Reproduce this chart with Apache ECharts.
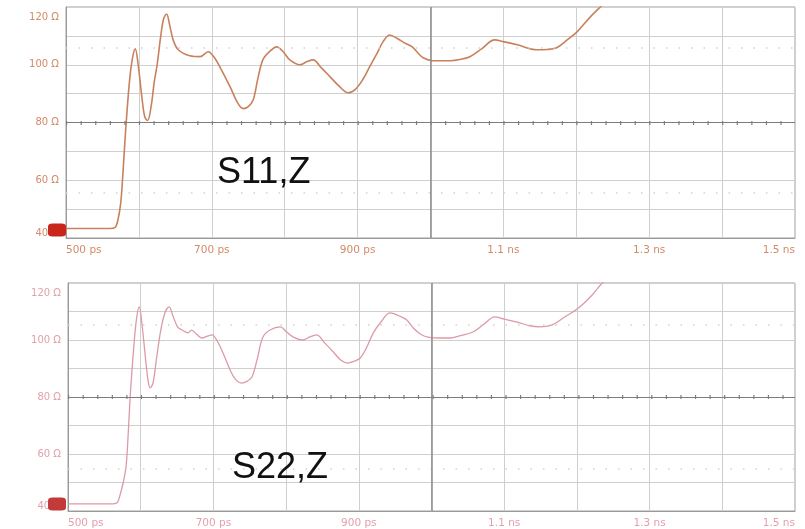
<!DOCTYPE html>
<html>
<head>
<meta charset="utf-8">
<style>
    html, body { margin: 0; padding: 0; background: #fff; }
    #tdr-chart { width: 805px; height: 529px; }
</style>
<script src="https://cdn.jsdelivr.net/npm/echarts@6/dist/echarts.min.js"></script>
</head>
<body>
<div id="tdr-chart"></div>
<script>
// S11 impedance trace (time in ps, Z in ohm)
var s11Time = [500, 560, 567, 571, 575, 578, 582, 587, 591, 595, 599, 604, 608, 612, 617, 621, 625, 630, 634, 638, 642, 647, 654, 670, 684, 695, 702, 711, 725, 735, 743, 750, 757, 763, 770, 779, 789, 798, 807, 821, 830, 839, 850, 862, 875, 887, 897, 907, 917, 927, 935, 944, 955, 965, 975, 983, 990, 1003, 1027, 1040, 1054, 1070, 1088, 1100, 1119, 1146, 1160, 1173, 1187, 1201, 1219, 1233, 1250];
var s11Z    = [43.3, 43.3, 43.6, 46, 52, 62, 78, 94, 102, 105.5, 100, 89, 82, 80.7, 86, 94, 100, 110, 116, 117.6, 114, 108.6, 105.2, 103.1, 102.8, 104.5, 103, 99.3, 92.4, 87, 84.8, 85.5, 88, 95, 101.7, 104.5, 106.2, 104.5, 101.7, 100, 101, 101.7, 99, 95.9, 92.5, 90.3, 91.5, 94.8, 99.5, 104.1, 108, 110.3, 109, 107.5, 106.2, 104, 102.4, 101.4, 101.4, 101.8, 102.8, 105.5, 108.6, 108, 106.9, 105.2, 105.3, 105.9, 108.5, 111.4, 116.5, 120, 124];

// S22 impedance trace
var s22Time = [500, 562, 568, 572, 576, 580, 583, 586, 590, 594, 598, 602, 606, 610, 613, 617, 622, 628, 634, 639, 645, 651, 657, 665, 670, 677, 684, 691, 698, 706, 714, 723, 731, 739, 746, 753, 760, 768, 778, 792, 800, 810, 823, 832, 842, 853, 865, 875, 885, 893, 902, 911, 920, 931, 943, 955, 966, 975, 985, 995, 1010, 1025, 1040, 1057, 1072, 1087, 1100, 1118, 1135, 1149, 1166, 1181, 1202, 1221, 1235, 1250];
var s22Z    = [42.5, 42.5, 43, 46, 50, 56, 68, 82, 96, 107, 111.6, 105, 95, 86, 83.2, 85, 94, 104, 110, 111.6, 108, 104.5, 103.5, 102.5, 103.5, 102, 100.7, 101.3, 101.8, 99.3, 95, 89.5, 86, 84.9, 85.5, 87, 93, 101, 103.5, 104.6, 103, 101, 100, 101, 101.8, 99, 95.8, 93, 91.9, 92.5, 93.7, 97.5, 102.5, 106.5, 109.5, 108.5, 107, 104.2, 102, 101, 100.7, 100.7, 101.5, 102.8, 105.5, 108.1, 107.3, 106.3, 105, 104.6, 105.3, 107.7, 111.2, 115.8, 120, 123];

// axis ranges and reference levels
var timeMin = 500, timeMax = 1500, timeStep = 100;
var zMin = 40, zMax = 120, zStep = 10;
var centerZ = 80, centerTime = 1000;
var s11RefLevels = [106, 55.5];
var s22RefLevels = [105.5, 55];

function zip(xs, ys) {
    return xs.map(function (x, i) { return [x, ys[i]]; });
}

function timeLabel(v) {
    if ((v - timeMin) % 200 !== 0) return '';
    return v < 1000 ? v + ' ps' : (v / 1000).toFixed(1) + ' ns';
}

function zLabel(v) {
    if (v % 20 !== 0) return '';
    // top label sits a bit lower, like the scope screen
    return v === zMax ? '{top|' + v + ' \u03A9}' : v + ' \u03A9';
}

function makeX(gridIndex, color) {
    return {
        type: 'value', gridIndex: gridIndex,
        min: timeMin, max: timeMax, interval: timeStep,
        axisLine: { show: true, lineStyle: { color: '#9a9a9a' } },
        axisTick: { show: false },
        splitLine: { show: true, lineStyle: { color: '#cfcfcf', width: 1 } },
        axisLabel: {
            formatter: timeLabel, color: color, fontSize: 10.5, margin: 7,
            fontFamily: 'DejaVu Sans',
            alignMinLabel: 'left', alignMaxLabel: 'right'
        }
    };
}

function makeY(gridIndex, color) {
    return {
        type: 'value', gridIndex: gridIndex,
        min: zMin, max: zMax, interval: zStep,
        axisLine: { show: true, lineStyle: { color: '#9a9a9a' } },
        axisTick: { show: false },
        splitLine: { show: true, lineStyle: { color: '#cfcfcf', width: 1 } },
        axisLabel: {
            formatter: zLabel, color: color, fontSize: 10, margin: 7,
            fontFamily: 'DejaVu Sans',
            verticalAlignMinLabel: 'bottom', verticalAlignMaxLabel: 'top',
            rich: { top: { color: color, fontSize: 10, fontFamily: 'DejaVu Sans', padding: [5, 0, 0, 0] } }
        }
    };
}

function makeMarks(refLevels) {
    var data = refLevels.map(function (v) {
        return { yAxis: v, lineStyle: { color: '#d6d0d0', type: [1.5, 11], width: 1.5 } };
    });
    data.push({ yAxis: centerZ, lineStyle: { color: '#7d7d7d', type: 'solid', width: 1.2 } });
    data.push({ yAxis: centerZ, lineStyle: { color: '#7d7d7d', type: [1.2, 13.38], width: 4 } });
    data.push({ xAxis: centerTime, lineStyle: { color: '#8a8a8a', type: 'solid', width: 1.5 } });
    return {
        silent: true, symbol: 'none', label: { show: false },
        animation: false, data: data
    };
}

function makeSeries(idx, data, color, width, refLevels, markerColor, markerOffset) {
    return {
        type: 'line', xAxisIndex: idx, yAxisIndex: idx,
        data: data, showSymbol: false, smooth: 0.35,
        lineStyle: { color: color, width: width },
        clip: true,
        markLine: makeMarks(refLevels),
        markPoint: {
            silent: true,
            data: [{
                coord: [timeMin, zMin], symbol: 'roundRect', symbolSize: [18, 13],
                symbolOffset: markerOffset,
                itemStyle: { color: markerColor },
                label: { show: false }
            }]
        }
    };
}

var chart = echarts.init(document.getElementById('tdr-chart'));
var options = {
    backgroundColor: '#fff',
    animation: false,
    title: [
        { text: 'S11,Z', left: 212, top: 150, textStyle: { fontSize: 36, fontWeight: 'normal', color: '#111', fontFamily: 'Liberation Sans' } },
        { text: 'S22,Z', left: 227, top: 445, textStyle: { fontSize: 36, fontWeight: 'normal', color: '#111', fontFamily: 'Liberation Sans' } }
    ],
    grid: [
        { left: 66, right: 10, top: 7, height: 231, show: true, borderColor: '#a0a0a0', borderWidth: 1 },
        { left: 68, right: 10, top: 283, height: 228, show: true, borderColor: '#a0a0a0', borderWidth: 1 }
    ],
    xAxis: [makeX(0, '#d38a68'), makeX(1, '#e3a0ac')],
    yAxis: [makeY(0, '#d38a68'), makeY(1, '#e3a0ac')],
    series: [
        makeSeries(0, zip(s11Time, s11Z), '#c9805c', 1.6, s11RefLevels, '#c8261a', [-9, -8]),
        makeSeries(1, zip(s22Time, s22Z), '#dc9aa6', 1.3, s22RefLevels, '#c23a3a', [-11, -7])
    ]
};
chart.setOption(options);
</script>
</body>
</html>
